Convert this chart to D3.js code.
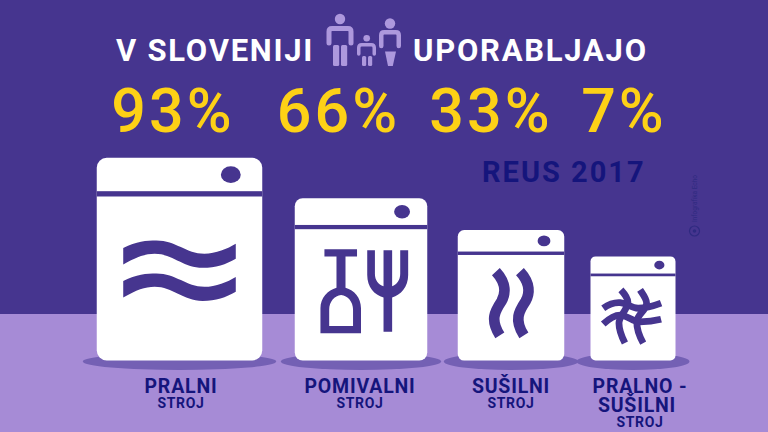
<!DOCTYPE html>
<html><head><meta charset="utf-8">
<script src="https://cdnjs.cloudflare.com/ajax/libs/d3/7.8.5/d3.min.js"></script>
<style>html,body{margin:0;padding:0;background:#46358f}svg{display:block}text{font-family:Roboto,sans-serif}</style>
</head><body>
<script>
const titleLeft = "V SLOVENIJI";
const titleRight = "UPORABLJAJO";
const subtitle = "REUS 2017";
const watermark = "Infografika Echo";
const appliances = ["PRALNI", "POMIVALNI", "SUŠILNI", "PRALNO - SUŠILNI"];
const shares = [93, 66, 33, 7];
const labelLines = [["PRALNI"], ["POMIVALNI"], ["SUŠILNI"], ["PRALNO -", "SUŠILNI"]];
const labelSub = "STROJ";

const C = {bg:"#46358f", floor:"#a68bd6", shadow:"#7460b4", white:"#ffffff", navy:"#15157c", yellow:"#fdd116", person:"#ad98dd", mark:"#2f2a80"};
const W = 768, H = 432;

const svg = d3.select("body").append("svg").attr("width", W).attr("height", H);
svg.append("rect").attr("width", W).attr("height", H).attr("fill", C.bg);
const floorY = 314, baseY = 360.5;
svg.append("rect").attr("y", floorY).attr("width", W).attr("height", H - floorY).attr("fill", C.floor);

// piecewise scales keyed by share value
const dom = [7, 33, 66, 93];
const widthS = d3.scaleLinear().domain(dom).range([85, 106.5, 132.5, 165.5]);
const centerS = d3.scaleLinear().domain(dom).range([633, 511, 361, 179.5]);
const pctS = d3.scaleLinear().domain(dom).range([624, 491, 338.5, 173]);
const labelS = d3.scaleLinear().domain(dom).range([640, 511, 360, 181]);
const ratio = 1.225;

// title
const title = svg.append("g").attr("fill", C.white).attr("font-weight", 700).attr("font-size", 31).attr("letter-spacing", 1.75);
title.append("text").attr("x", 116).attr("y", 61).text(titleLeft);
title.append("text").attr("x", 413).attr("y", 61).text(titleRight);

// family pictogram
const fam = svg.append("g");
function upper(x0, x1, y0, y1, sw){
  const r = 3;
  fam.append("path").attr("fill","none").attr("stroke",C.person).attr("stroke-width",sw).attr("stroke-linecap","round")
   .attr("d", `M${x0+sw/2} ${y1}V${y0+sw/2+r}Q${x0+sw/2} ${y0+sw/2} ${x0+sw/2+r} ${y0+sw/2}H${x1-sw/2-r}Q${x1-sw/2} ${y0+sw/2} ${x1-sw/2} ${y0+sw/2+r}V${y1}`);
}
const person = (cx, cy, r) => fam.append("circle").attr("cx",cx).attr("cy",cy).attr("r",r).attr("fill",C.person);
const leg = (x, w, y0, y1) => fam.append("rect").attr("x",x).attr("y",y0).attr("width",w).attr("height",y1-y0).attr("rx",1.5).attr("fill",C.person);
person(340, 19, 5.2); upper(326.5, 353.5, 26, 43, 5); leg(333, 6.2, 45, 66); leg(341, 6.2, 45, 66);
person(366.7, 38.3, 3.3); upper(357, 376, 43, 54, 3.5); leg(362, 4.2, 56, 66); leg(368, 4.2, 56, 66);
person(390, 23.5, 5.2); upper(379, 401, 30, 46, 4.5);
fam.append("path").attr("fill",C.person).attr("d","M385 51.5H396L392.8 66H388Z");

// percentages
svg.append("g").selectAll("text").data(shares).join("text")
  .attr("x", d => pctS(d)).attr("y", 132).attr("text-anchor","middle")
  .attr("fill", C.yellow).attr("font-weight",500).attr("font-size",61).attr("letter-spacing",3)
  .text(d => d + "%");

svg.append("text").attr("x",482).attr("y",182).attr("fill",C.navy)
  .attr("font-family","'Liberation Sans',sans-serif").attr("font-weight",700).attr("font-size",29).attr("letter-spacing",2).text(subtitle);

// watermark
svg.append("circle").attr("cx",694.5).attr("cy",231).attr("r",5).attr("fill","none").attr("stroke",C.mark).attr("stroke-width",1.2);
svg.append("circle").attr("cx",694.5).attr("cy",231).attr("r",1.8).attr("fill",C.mark);
svg.append("text").attr("transform","translate(697,222) rotate(-90)").attr("fill",C.mark).attr("font-size",6.5).text(watermark);

// shadows
svg.append("g").selectAll("ellipse").data(shares).join("ellipse")
  .attr("cx", d => centerS(d)).attr("cy", baseY + 1).attr("rx", d => widthS(d)/2 + 14).attr("ry", 8.5).attr("fill", C.shadow);

// glyphs in a 100-unit-wide machine space
const glyphs = [
  g => { // waves
    const wave = "M16 54.5C24 50.5 30 50 36 50C48 50 54 58 65 58C72 58 79 55 84 52L84 61C78 64.5 72 66.5 64 66.5C52 66.5 46 58 35 58C29 58 24 60 16 64.5Z";
    g.append("path").attr("d",wave).attr("fill",C.bg);
    g.append("path").attr("d",wave).attr("transform","translate(0,20)").attr("fill",C.bg);
  },
  g => { // bottle and fork
    g.append("path").attr("fill",C.bg).attr("fill-rule","evenodd").attr("d",
      "M22.4 38.5H47V44H38.3V67.5C45 69.5 50 75 50 83V102H19.4V83C19.4 75 25 69.5 31.5 67.5V44H22.4Z"+
      "M26 96.5H44V84C44 78 40 73.5 35 73C30 73.5 26 78 26 84Z");
    g.append("path").attr("fill",C.bg).attr("d",
      "M54.7 39.3H60.5V57C60.5 62 63 65 67 66.5V39.3H73.5V66.5C77 65 79.6 62 79.6 57V39.3H85.6V58C85.6 67 80 73 73.5 75V100.8H67V75C60 73 54.7 67 54.7 58Z");
  },
  g => { // heat
    const s = "M35.8 39C46 50 45 60 41 67C35 76 30 84 39.5 99";
    g.append("path").attr("d",s).attr("fill","none").attr("stroke",C.bg).attr("stroke-width",10);
    g.append("path").attr("d",s).attr("transform","translate(22.6,0)").attr("fill","none").attr("stroke",C.bg).attr("stroke-width",10);
  },
  g => { // hash
    ["M15 61C22 56 29 54 35 54.5C43 55 48 61 56 61C65 61 75 58 83 55",
     "M15 79.6C22 73 28 69 35 69C43 69 50 77 58 77C67 77 75 76 83 74",
     "M35.8 39.4C40 44 44 49 44 54C44 62 33.5 70 33.5 78.6C33.5 87 37 95 40.5 102",
     "M58.3 39.4C62 45 66 50 66 55C66 63 54.5 69 54.4 76.8C54.4 86 58 95 62 102"]
     .forEach(d => g.append("path").attr("d",d).attr("fill","none").attr("stroke",C.bg).attr("stroke-width",8));
  }
];

// machines
const machines = svg.append("g").selectAll("g").data(shares).join("g")
  .attr("transform", d => {
    const w = widthS(d), h = w * ratio;
    return `translate(${centerS(d) - w/2},${baseY - h}) scale(${w/100})`;
  });
machines.append("rect").attr("width",100).attr("height",100*ratio).attr("rx",6).attr("fill",C.white);
machines.append("rect").attr("y",20.2).attr("width",100).attr("height",3.2).attr("fill",C.bg);
machines.append("ellipse").attr("cx",81).attr("cy",10.2).attr("rx",6).attr("ry",5.1).attr("fill",C.bg);
machines.each(function(d,i){ glyphs[i](d3.select(this)); });

// labels
const labels = svg.append("g").attr("text-anchor","middle").attr("fill",C.navy).attr("font-weight",700);
shares.forEach((d,i) => {
  const lines = labelLines[i];
  const lineH = 19;
  lines.forEach((t,k) => labels.append("text").attr("x",labelS(d) - (k ? 3 : 0)).attr("y",393 + k*lineH).attr("font-size",19.5).attr("letter-spacing",0.8).text(t));
  labels.append("text").attr("x",labelS(d)).attr("y",393 + (lines.length-1)*lineH + 15).attr("font-size",14).attr("letter-spacing",0.7).text(labelSub);
});
</script>
</body></html>
